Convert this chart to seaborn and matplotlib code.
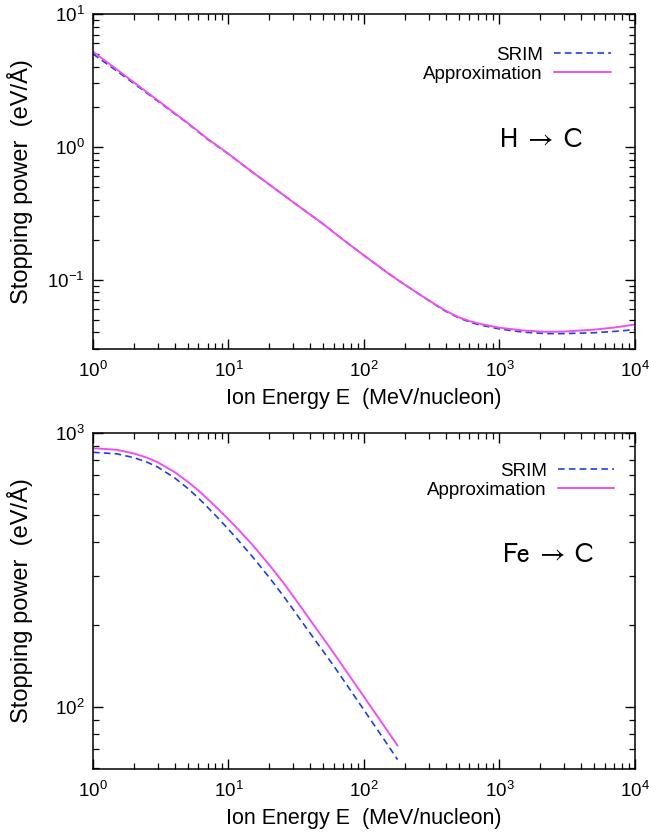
import numpy as np
import pandas as pd
import matplotlib
matplotlib.use('Agg')
import matplotlib.pyplot as plt
import seaborn as sns

# 1. data (stopping power in eV/Å vs energy in MeV/nucleon)
h_energy = [1, 1.5, 2, 3, 5, 7, 10, 15, 20, 30, 50, 70, 100, 150, 200, 260, 300,
            385, 500, 605, 700, 1000, 1500, 2200, 3000, 5000, 7000, 10000]
h_srim = [5.0, 3.72, 3.0, 2.21, 1.5, 1.14, 0.882, 0.644, 0.52, 0.383, 0.262, 0.2,
          0.152, 0.112, 0.0915, 0.0768, 0.0697, 0.059, 0.0515, 0.0478, 0.0458,
          0.0425, 0.0402, 0.0392, 0.0392, 0.0398, 0.0407, 0.042]
h_approx = [5.2, 3.82, 3.06, 2.24, 1.51, 1.15, 0.885, 0.645, 0.52, 0.383, 0.262, 0.2,
            0.152, 0.112, 0.0915, 0.0768, 0.07, 0.0596, 0.052, 0.0486, 0.0467,
            0.0434, 0.0414, 0.0404, 0.0406, 0.042, 0.0435, 0.0459]

fe_energy = [1, 1.5, 2, 2.5, 3, 4, 5, 6, 8, 10, 12, 15, 20, 25, 30, 40, 60, 100,
             140, 177]
fe_srim = [850, 839, 813, 783, 751, 686, 628, 579, 501, 445, 402, 354, 297, 257,
           227, 186, 141, 97.5, 76.4, 64.3]
fe_approx = [880, 868, 842, 813, 782, 720, 664, 617, 540, 484, 441, 391, 330, 287,
             254, 208, 157, 109, 85.6, 72.3]

x_label = 'Ion Energy E  (MeV/nucleon)'
y_label = 'Stopping power  (eV/Å)'
series_names = ['SRIM', 'Approximation']

# 2. style
sns.set_style('ticks')
plt.rcParams['font.family'] = ['Liberation Sans', 'DejaVu Sans']
plt.rcParams['mathtext.fontset'] = 'custom'
plt.rcParams['mathtext.rm'] = 'Liberation Sans'
plt.rcParams['axes.linewidth'] = 1.1
plt.rcParams['xtick.direction'] = 'in'
plt.rcParams['ytick.direction'] = 'in'
for key in ['text.color', 'axes.labelcolor', 'xtick.color', 'ytick.color',
            'axes.edgecolor']:
    plt.rcParams[key] = 'black'

blue = '#1f3fe8'
pink = '#f050f0'

fig = plt.figure(figsize=(6.49, 8.32), dpi=100)
ax_top = fig.add_axes([0.1433, 0.5805, 0.8351, 0.4027])
ax_bot = fig.add_axes([0.1433, 0.0757, 0.8351, 0.4039])


def draw_panel(ax, energy, srim, approx, ylim, tag, tag_x, tag_y, leg_x, leg_y, xl_y):
    ax.set_xscale('log')
    ax.set_yscale('log')
    df = pd.DataFrame({'E': energy, 'SRIM': srim, 'Approximation': approx})
    sns.lineplot(data=df, x='E', y='SRIM', ax=ax, color=blue, lw=1.2,
                 linestyle=(0, (4, 2.5)), label=series_names[0])
    sns.lineplot(data=df, x='E', y='Approximation', ax=ax, color=pink, lw=1.4,
                 label=series_names[1])
    ax.set_xlim(1, 1e4)
    ax.set_ylim(*ylim)
    ax.set_xlabel(x_label, fontsize=15.5)
    ax.set_ylabel(y_label, fontsize=17)
    ax.xaxis.set_label_coords(0.5, xl_y)
    ax.yaxis.set_label_coords(-0.111, 0.5)
    ax.tick_params(which='both', top=True, right=True, labelsize=13.5, color='black')
    ax.tick_params(which='major', length=7, width=1.0, pad=6)
    ax.tick_params(which='minor', length=4, width=0.9)
    ax.tick_params(axis='x', which='major', pad=8.5)
    ax.legend(loc='upper right', bbox_to_anchor=(leg_x, leg_y), frameon=False,
              markerfirst=False, fontsize=13.5, handlelength=3.0, handletextpad=0.6,
              labelspacing=0.1, borderpad=0, borderaxespad=0)
    ax.text(tag_x, tag_y, tag, transform=ax.transAxes, fontsize=20,
            ha='right', va='center', math_fontfamily='stixsans')


draw_panel(ax_top, h_energy, h_srim, h_approx, (0.03, 10),
           r'$\mathrm{H}\;\rightarrow\;\mathrm{C}$',
           0.904, 0.624, 0.955, 0.903, -0.117)
draw_panel(ax_bot, fe_energy, fe_srim, fe_approx, (59.4, 1000),
           r'$\mathrm{Fe}\;\rightarrow\;\mathrm{C}$',
           0.926, 0.637, 0.962, 0.911, -0.116)

fig.savefig('out.png', dpi=100)
